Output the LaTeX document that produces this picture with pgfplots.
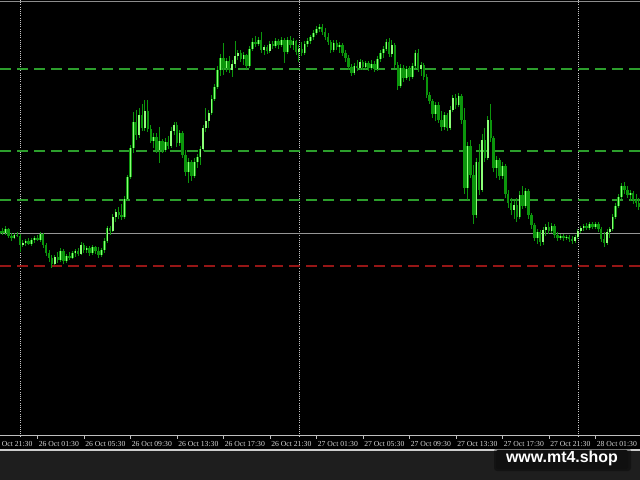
\documentclass[border=0pt]{standalone}
\usepackage{pgfplots}
\usepackage{pgfplotstable}
\pgfplotsset{compat=1.18}
\usepackage{fontspec}
\setmainfont{Liberation Serif}
\newfontfamily\wmfont{Liberation Sans}
\definecolor{bull}{RGB}{140,255,120}
\definecolor{bear}{RGB}{12,150,12}
\definecolor{lvlgreen}{RGB}{44,158,44}
\definecolor{lvlred}{RGB}{150,22,22}
\definecolor{lvlgrey}{RGB}{150,150,150}
\definecolor{band}{RGB}{30,30,30}
\definecolor{wmbox}{RGB}{16,16,16}
\definecolor{lbl}{RGB}{215,215,215}
% candles: bar index i (M15, i=0 at 26 Oct 00:00), open/high/low/close as screen heights (pixels from top)
\pgfplotstableread{
i o h l c
-7 234 229 236 231
-6 231 228 235 233
-5 233 226 235 229
-4 229 228 238 236
-3 236 233 241 238
-2 238 233 239 235
-1 235 232 237 236
0 236 234 252 245
1 245 240 247 243
2 243 239 246 241
3 241 238 245 244
4 244 238 246 240
5 240 236 243 238
6 238 235 241 240
7 240 232 242 234
8 234 233 248 245
9 245 243 256 253
10 253 250 262 258
11 258 255 268 264
12 264 255 265 257
13 257 252 263 260
14 260 248 262 251
15 251 249 264 261
16 261 254 263 256
17 256 252 260 258
18 258 251 259 253
19 253 249 257 251
20 251 248 256 254
21 254 242 255 245
22 245 243 253 250
23 250 246 253 248
24 248 246 256 253
25 253 245 255 247
26 247 246 254 251
27 251 247 258 255
28 255 248 257 250
29 250 238 253 241
30 241 226 243 228
31 228 226 235 231
32 231 214 232 217
33 217 209 222 212
34 212 207 219 215
35 215 204 220 217
36 217 196 219 199
37 199 175 201 177
38 177 145 179 148
39 148 112 153 122
40 122 110 140 135
41 135 108 138 115
42 115 104 131 128
43 128 100 131 111
44 111 100 132 129
45 129 125 143 141
46 141 133 148 137
47 137 133 153 150
48 150 127 163 141
49 141 139 153 150
50 150 138 152 142
51 142 136 149 146
52 146 127 148 131
53 131 122 135 125
54 125 122 147 143
55 143 130 146 133
56 133 131 158 155
57 155 150 176 172
58 172 158 183 162
59 162 160 181 176
60 176 158 178 162
61 162 154 168 157
62 157 146 165 149
63 149 125 151 128
64 128 108 132 121
65 121 110 128 113
66 113 95 115 99
67 99 84 101 87
68 87 66 89 70
69 70 54 76 58
70 58 43 75 68
71 68 58 72 61
72 61 56 73 70
73 70 60 77 64
74 64 41 68 56
75 56 50 60 53
76 53 50 62 59
77 59 52 65 55
78 55 54 69 66
79 66 46 68 49
80 49 38 51 42
81 42 36 47 44
82 44 37 46 40
83 40 32 53 50
84 50 45 55 47
85 47 45 54 51
86 51 41 53 44
87 44 41 49 46
88 46 38 48 41
89 41 39 49 45
90 45 37 47 40
91 40 38 63 52
92 52 37 54 40
93 40 36 48 45
94 45 38 50 41
95 41 40 55 52
96 52 45 62 49
97 49 42 56 53
98 53 41 55 44
99 44 38 47 41
100 41 35 44 37
101 37 30 40 33
102 33 26 35 29
103 29 24 32 27
104 27 24 35 32
105 32 28 40 37
106 37 33 45 42
107 42 40 53 50
108 50 40 52 43
109 43 40 50 47
110 47 42 53 45
111 45 43 56 53
112 53 50 62 58
113 58 55 70 67
114 67 64 76 73
115 73 63 75 66
116 66 60 71 68
117 68 59 70 62
118 62 60 70 67
119 67 61 69 63
120 63 61 71 68
121 68 60 70 64
122 64 61 72 69
123 69 56 71 59
124 59 50 62 53
125 53 46 58 49
126 49 39 51 42
127 42 38 57 54
128 54 40 57 45
129 45 43 68 65
130 65 62 90 86
131 86 64 88 68
132 68 65 82 78
133 78 66 80 69
134 69 66 81 77
135 77 63 79 66
136 66 50 68 53
137 53 49 72 69
138 69 62 76 65
139 65 63 80 77
140 77 74 98 95
141 95 92 104 101
142 101 99 118 114
143 114 102 121 105
144 105 102 123 120
145 120 111 131 127
146 127 112 130 115
147 115 113 131 128
148 128 106 130 110
149 110 95 112 98
150 98 94 109 105
151 105 93 107 96
152 96 94 124 120
153 120 108 194 188
154 188 142 200 146
155 146 140 178 175
156 175 165 224 215
157 215 158 218 162
158 162 144 195 190
159 190 134 192 140
160 140 128 162 158
161 158 116 160 120
162 120 104 142 138
163 138 136 172 168
164 168 156 178 160
165 160 158 180 176
166 176 162 179 166
167 166 164 198 194
168 194 190 208 203
169 203 198 215 210
170 210 201 219 205
171 205 198 222 217
172 217 191 219 195
173 195 186 209 206
174 206 188 208 191
175 191 189 219 215
176 215 213 229 225
177 225 223 241 238
178 238 229 244 232
179 232 230 246 242
180 242 227 245 230
181 230 224 236 227
182 227 222 234 231
183 231 223 233 226
184 226 224 238 235
185 235 232 241 238
186 238 234 240 236
187 236 234 241 238
188 238 235 240 237
189 237 235 242 239
190 239 236 244 241
191 241 235 243 237
192 237 229 239 231
193 231 226 233 228
194 228 224 231 226
195 226 223 230 228
196 228 222 230 224
197 224 222 229 227
198 227 222 229 224
199 224 222 232 229
200 229 227 242 239
201 239 232 247 243
202 243 229 245 232
203 232 227 238 229
204 229 214 231 217
205 217 203 219 206
206 206 194 208 197
207 197 183 199 186
208 186 182 194 190
209 190 186 198 195
210 195 190 201 193
211 193 191 204 200
212 200 194 207 203
213 203 198 210 207
214 207 200 211 204
}\candles
\pgfplotsset{
  candle/.style={only marks, mark options={draw opacity=0, fill opacity=0},
    error bars/.cd, y dir=plus, y explicit, error mark=none},
}
\begin{document}
\begin{tikzpicture}
\path[use as bounding box, clip] (0,0) rectangle (640bp,480bp);
\begin{axis}[
  at={(0,0)}, anchor=south west,
  scale only axis, width=640bp, height=480bp,
  xmin=0, xmax=640, ymin=0, ymax=480,
  axis line style={draw=none},
  axis background/.style={fill=black},
  ytick=\empty,
  xtick={37.44,83.9,130.4,176.9,223.4,269.9,316.4,362.9,409.4,455.9,502.4,548.9,595.4},
  xticklabels={26 Oct 01:30,26 Oct 05:30,26 Oct 09:30,26 Oct 13:30,26 Oct 17:30,26 Oct 21:30,27 Oct 01:30,27 Oct 05:30,27 Oct 09:30,27 Oct 13:30,27 Oct 17:30,27 Oct 21:30,28 Oct 01:30},
  extra x ticks={0.01},
  extra x tick labels={25 Oct 21:30},
  extra x tick style={xticklabel style={xshift=-9.1bp}},
  major tick length=0pt,
  xticklabel style={anchor=west, yshift=35.5bp, inner sep=1.2bp, text=lbl, font=\fontsize{7.7}{8}\selectfont},
  unbounded coords=jump,
]
% lower band
\fill[band] (axis cs:0,0) rectangle (axis cs:640,30);
% day separators
\addplot[color={rgb,255:red,200;green,200;blue,200}, line width=1bp, dash pattern=on 1bp off 1.2bp] coordinates {(20,480) (20,44) (nan,nan) (299,480) (299,44) (nan,nan) (578,480) (578,44)};
% levels
\addplot[lvlgreen, line width=1.2bp, dash pattern=on 11bp off 6bp] coordinates {(0,411) (640,411)};
\addplot[lvlgreen, line width=1.2bp, dash pattern=on 11bp off 6bp] coordinates {(0,329) (640,329)};
\addplot[lvlgreen, line width=1.2bp, dash pattern=on 11bp off 6bp] coordinates {(0,280) (640,280)};
\addplot[lvlgrey, line width=1bp] coordinates {(0,246) (640,246)};
\addplot[lvlred, line width=1.2bp, dash pattern=on 11bp off 6bp] coordinates {(0,214) (640,214)};
% top border, time axis line and tick marks
\addplot[color={rgb,255:red,140;green,140;blue,140}, line width=1.5bp] coordinates {(0,478.5) (640,478.5)};
\addplot[color={rgb,255:red,190;green,190;blue,190}, line width=1bp] coordinates {(0,44) (640,44)};
\addplot[color={rgb,255:red,190;green,190;blue,190}, line width=0.8bp] coordinates {
(37.44,44) (37.44,40.5) (nan,nan) (83.9,44) (83.9,40.5) (nan,nan) (130.4,44) (130.4,40.5) (nan,nan)
(176.9,44) (176.9,40.5) (nan,nan) (223.4,44) (223.4,40.5) (nan,nan) (269.9,44) (269.9,40.5) (nan,nan)
(316.4,44) (316.4,40.5) (nan,nan) (362.9,44) (362.9,40.5) (nan,nan) (409.4,44) (409.4,40.5) (nan,nan)
(455.9,44) (455.9,40.5) (nan,nan) (502.4,44) (502.4,40.5) (nan,nan) (548.9,44) (548.9,40.5) (nan,nan)
(595.4,44) (595.4,40.5)};
\addplot[color={rgb,255:red,205;green,205;blue,205}, line width=1.5bp] coordinates {(0,30) (640,30)};
% wicks (all candles)
\addplot[bear, candle, error bar style={bear, line width=1bp}]
  table[x expr={20+2.906*\thisrow{i}}, y expr={480-\thisrow{l}}, y error plus expr={\thisrow{l}-\thisrow{h}}]{\candles};
% bodies (all candles, dark outline)
\addplot[bear, candle, error bar style={bear, line width=2.5bp}]
  table[x expr={20+2.906*\thisrow{i}}, y expr={480-max(\thisrow{o},\thisrow{c})}, y error plus expr={abs(\thisrow{c}-\thisrow{o})}]{\candles};
% bull bodies, bright fill
\addplot[bull, restrict expr to domain={\thisrow{c}-\thisrow{o}}{-1000:-0.01}, candle, error bar style={bull, line width=1.3bp}]
  table[x expr={20+2.906*\thisrow{i}}, y expr={480-max(\thisrow{o},\thisrow{c})+0.4}, y error plus expr={abs(\thisrow{c}-\thisrow{o})-0.8}]{\candles};
% watermark
\fill[black, opacity=0.35, rounded corners=3bp] (axis cs:494,9) rectangle (axis cs:631,32);
\fill[wmbox, rounded corners=2bp] (axis cs:496,11) rectangle (axis cs:628,30);
\node[anchor=base, text=white, inner sep=0pt, font=\wmfont\bfseries\fontsize{16}{16}\selectfont] at (axis cs:562,18) {www.mt4.shop};
\end{axis}
\end{tikzpicture}
\end{document}
